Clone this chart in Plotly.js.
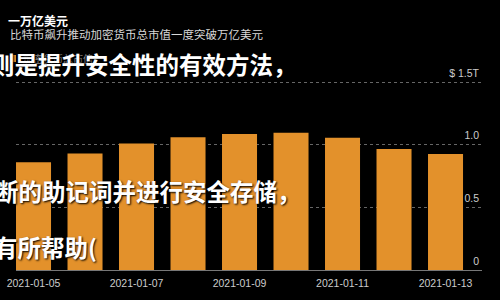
<!DOCTYPE html>
<html>
<head>
<meta charset="utf-8">
<script src="https://cdn.plot.ly/plotly-3.0.1.min.js"></script>
<style>html,body{margin:0;padding:0;background:#000;}#chart{width:500px;height:300px;}</style>
</head>
<body>
<div id="chart"></div>
<script>
var dates = ['2021-01-05','2021-01-06','2021-01-07','2021-01-08','2021-01-09','2021-01-10','2021-01-11','2021-01-12','2021-01-13'];
var marketCap = [0.86, 0.93, 1.01, 1.06, 1.085, 1.095, 1.055, 0.965, 0.925];
var seriesName = '加密货币总市值';
var yTickVals = [0, 0.5, 1.0, 1.5];
var yTickText = ['0', '0.5', '1.0', '$ 1.5T'];
var titleText = '一万亿美元';
var subtitleText = '比特币飙升推动加密货币总市值一度突破万亿美元';
var overlayLines = ['则是提升安全性的有效方法，', '断的助记词并进行安全存储，', '有所帮助('];

var W = 500, H = 300, L = 16, R = 18, T = 60, B = 30;
var pw = W - L - R, ph = H - T - B;
function px(x){ return (x - L) / pw; }
function py(y){ return (H - B - y) / ph; }

var overlayFont = {family: '"Noto Sans CJK SC", sans-serif', size: 23.5, color: '#ffffff', weight: 700, shadow: '1px 1px 2px #000'};
var overlayPos = [[-11.5, 64], [-7.5, 191], [-8.5, 247]];
var annotations = [
  {text: subtitleText, xref: 'paper', yref: 'paper', x: px(8), y: py(33.5), xanchor: 'left', yanchor: 'middle', showarrow: false,
   font: {family: '"Noto Sans CJK SC", sans-serif', size: 11.5, color: '#d8d8d8'}},
  {text: seriesName, xref: 'paper', yref: 'paper', x: px(21), y: py(58), xanchor: 'left', yanchor: 'middle', showarrow: false,
   font: {family: '"Noto Sans CJK SC", sans-serif', size: 10, color: '#8a8a8a'}}
];
overlayLines.forEach(function(t, i){
  annotations.push({text: t, xref: 'paper', yref: 'paper', x: px(overlayPos[i][0]), y: py(overlayPos[i][1]),
    xanchor: 'left', yanchor: 'middle', showarrow: false, font: overlayFont});
});

var data = [{
  type: 'bar', x: dates, y: marketCap, name: seriesName,
  marker: {color: '#E3912B'}, hoverinfo: 'skip'
}];

var layout = {
  width: W, height: H,
  margin: {l: L, r: R, t: T, b: B, pad: 0},
  paper_bgcolor: '#000', plot_bgcolor: '#000',
  showlegend: false,
  bargap: 0.32,
  title: {text: titleText, xref: 'container', yref: 'container', x: 8/W, y: 1 - 22/H, xanchor: 'left', yanchor: 'middle',
    font: {family: '"Noto Sans CJK SC", sans-serif', size: 12, color: '#ffffff', weight: 700}},
  xaxis: {
    type: 'date', range: ['2021-01-04 15:50', '2021-01-13 17:00'],
    tickvals: ['2021-01-05','2021-01-07','2021-01-09','2021-01-11','2021-01-13'],
    tickformat: '%Y-%m-%d', showgrid: false, zeroline: false, showline: false, ticks: '',
    ticklabelstandoff: 5,
    tickfont: {family: '"Liberation Sans", sans-serif', size: 10.5, color: '#cccccc'}
  },
  yaxis: {
    side: 'right', range: [0, ph / 125.3], tickvals: yTickVals, ticktext: yTickText,
    ticklabelposition: 'inside', ticklabelshift: -9, ticklabelstandoff: 0,
    showgrid: true, gridcolor: '#666666', griddash: 'dot', gridwidth: 1,
    zeroline: true, zerolinecolor: '#777777', zerolinewidth: 1, showline: false, ticks: '',
    tickfont: {family: '"Liberation Sans", sans-serif', size: 10.5, color: '#cccccc'}
  },
  shapes: [{type: 'rect', xref: 'paper', yref: 'paper', x0: px(10), x1: px(16), y0: py(55), y1: py(62),
    fillcolor: '#E3912B', line: {width: 0}}],
  annotations: annotations
};

Plotly.newPlot('chart', data, layout, {displayModeBar: false, staticPlot: true});
</script>
</body>
</html>
